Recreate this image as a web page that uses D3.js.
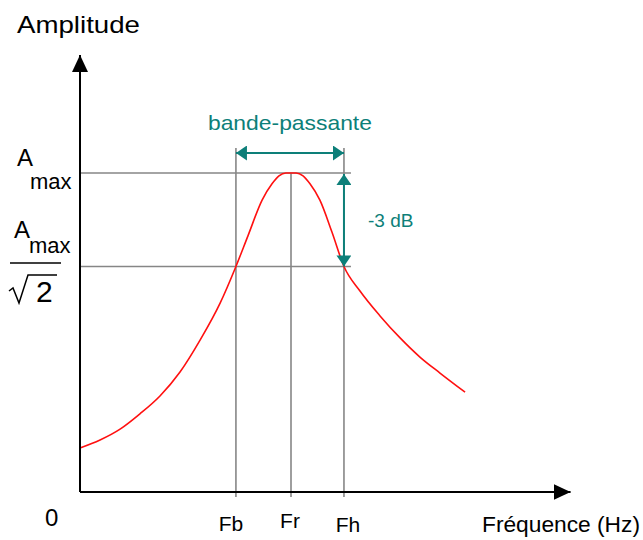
<!DOCTYPE html>
<html>
<head>
<meta charset="utf-8">
<script src="https://cdn.jsdelivr.net/npm/d3@7"></script>
<style>
  html, body { margin: 0; padding: 0; background: #fff; }
  svg { display: block; }
  text { font-family: "Liberation Sans", Arial, sans-serif; }
</style>
</head>
<body>
<div id="chart"></div>
<script>
// ---- Data (frequency relative to Fr, amplitude relative to Amax) ----
const freq = [0, 0.095, 0.190, 0.284, 0.379, 0.474, 0.569, 0.664, 0.739, 0.796, 0.863, 0.910, 0.943, 0.976,
              1.024, 1.057, 1.090, 1.137, 1.194, 1.251, 1.327, 1.422, 1.517, 1.611, 1.706, 1.825];
const amplitude = [0.138, 0.163, 0.197, 0.245, 0.301, 0.376, 0.476, 0.592, 0.707, 0.803, 0.915, 0.966, 0.991, 1.0,
                   1.0, 0.991, 0.966, 0.915, 0.815, 0.707, 0.630, 0.552, 0.483, 0.423, 0.373, 0.313];
const markNames = ["Fb", "Fr", "Fh"];
const markFreq = [0.739, 1.0, 1.251];
const levelValues = [1, 1 / Math.SQRT2];   // Amax, Amax/sqrt(2)
const axisMax = { x: 2.325, y: 1.37 };
const texts = {
  yTitle: "Amplitude",
  xTitle: "Fréquence (Hz)",
  origin: "0",
  band: "bande-passante",
  drop: "-3 dB",
  amp: "A",
  sub: "max",
  root: "2"
};

// ---- Setup ----
const W = 643, H = 540;
const svg = d3.select("#chart").append("svg").attr("width", W).attr("height", H);

const x = d3.scaleLinear().domain([0, 1]).range([80, 291]);
const y = d3.scaleLinear().domain([0, 1]).range([492, 173]);

const teal = "#0d7f79";
const gray = "#868686";

// Arrow markers
const defs = svg.append("defs");
function marker(id, color, len, half) {
  defs.append("marker")
    .attr("id", id)
    .attr("viewBox", `0 ${-half} ${len} ${2 * half}`)
    .attr("refX", len).attr("refY", 0)
    .attr("markerUnits", "userSpaceOnUse")
    .attr("markerWidth", len).attr("markerHeight", 2 * half)
    .attr("orient", "auto-start-reverse")
    .append("path")
    .attr("d", `M0,${-half}L${len},0L0,${half}Z`)
    .attr("fill", color);
}
marker("arrBlack", "#000", 17, 8);
marker("arrTeal", teal, 11, 7.5);

// ---- Guide lines ----
const g = svg.append("g");
g.selectAll("line.level").data(levelValues).join("line")
  .attr("class", "level")
  .attr("x1", x(0)).attr("x2", x(markFreq[2]) + 7)
  .attr("y1", d => y(d)).attr("y2", d => y(d))
  .attr("stroke", gray).attr("stroke-width", 1.6);

g.selectAll("line.vmark").data(markFreq).join("line")
  .attr("class", "vmark")
  .attr("x1", d => x(d)).attr("x2", d => x(d))
  .attr("y1", (d, i) => i === 1 ? y(1) : y(1) - 25)
  .attr("y2", y(0) + 5)
  .attr("stroke", gray).attr("stroke-width", 1.6);

// ---- Curve ----
const pts = freq.map((f, i) => [f, amplitude[i]]);
const line = d3.line().x(d => x(d[0])).y(d => y(d[1])).curve(d3.curveMonotoneX);
svg.append("path").datum(pts)
  .attr("d", line)
  .attr("fill", "none")
  .attr("stroke", "#ff1010")
  .attr("stroke-width", 1.6);

// ---- Axes ----
svg.append("line")
  .attr("x1", x(0)).attr("y1", y(0))
  .attr("x2", x(0)).attr("y2", y(axisMax.y))
  .attr("stroke", "#000").attr("stroke-width", 2)
  .attr("marker-end", "url(#arrBlack)");
svg.append("line")
  .attr("x1", x(0)).attr("y1", y(0))
  .attr("x2", x(axisMax.x)).attr("y2", y(0))
  .attr("stroke", "#000").attr("stroke-width", 2)
  .attr("marker-end", "url(#arrBlack)");

// ---- Bandwidth arrow ----
const bandY = y(1) - 20;
svg.append("line")
  .attr("x1", x(markFreq[0])).attr("x2", x(markFreq[2]))
  .attr("y1", bandY).attr("y2", bandY)
  .attr("stroke", teal).attr("stroke-width", 2)
  .attr("marker-start", "url(#arrTeal)")
  .attr("marker-end", "url(#arrTeal)");

// -3 dB arrow
svg.append("line")
  .attr("x1", x(markFreq[2])).attr("x2", x(markFreq[2]))
  .attr("y1", y(levelValues[0]) + 1).attr("y2", y(levelValues[1]))
  .attr("stroke", teal).attr("stroke-width", 2)
  .attr("marker-start", "url(#arrTeal)")
  .attr("marker-end", "url(#arrTeal)");

// ---- Texts ----
svg.append("text").attr("x", 17).attr("y", 33)
  .attr("font-size", 24).attr("textLength", 123).attr("lengthAdjust", "spacingAndGlyphs")
  .text(texts.yTitle);

svg.append("text").attr("x", 482).attr("y", 532)
  .attr("font-size", 22).attr("textLength", 158).attr("lengthAdjust", "spacingAndGlyphs")
  .text(texts.xTitle);

svg.append("text").attr("x", 45).attr("y", 526)
  .attr("font-size", 24).text(texts.origin);

const markBase = [531, 528, 532];
const markShift = [-5, -1, 4];
svg.selectAll("text.mark").data(markNames).join("text")
  .attr("class", "mark")
  .attr("x", (d, i) => x(markFreq[i]) + markShift[i])
  .attr("y", (d, i) => markBase[i])
  .attr("text-anchor", "middle")
  .attr("font-size", 21)
  .text(d => d);

svg.append("text").attr("x", (x(markFreq[0]) + x(markFreq[2])) / 2).attr("y", bandY - 23)
  .attr("text-anchor", "middle").attr("fill", teal)
  .attr("font-size", 21).attr("textLength", 164).attr("lengthAdjust", "spacingAndGlyphs")
  .text(texts.band);

svg.append("text").attr("x", x(markFreq[2]) + 24).attr("y", (y(levelValues[0]) + y(levelValues[1])) / 2 + 7)
  .attr("fill", teal).attr("font-size", 19)
  .text(texts.drop);

// Amax labels
function amaxLabel(xA, yA, xs, ys) {
  svg.append("text").attr("x", xA).attr("y", yA).attr("font-size", 24).text(texts.amp);
  svg.append("text").attr("x", xs).attr("y", ys).attr("font-size", 22).text(texts.sub);
}
amaxLabel(17, 166, 30, 189);
amaxLabel(14, 238, 29, 253);

// fraction bar + sqrt(2)
svg.append("line").attr("x1", 10).attr("x2", 61).attr("y1", 263).attr("y2", 263)
  .attr("stroke", "#000").attr("stroke-width", 1.6);
svg.append("path")
  .attr("d", "M9,291L13,288L19,303L28,275L57,275")
  .attr("fill", "none").attr("stroke", "#000").attr("stroke-width", 1.5)
  .attr("stroke-linejoin", "miter");
svg.append("text").attr("x", 36).attr("y", 302).attr("font-size", 30).text(texts.root);
</script>
</body>
</html>
